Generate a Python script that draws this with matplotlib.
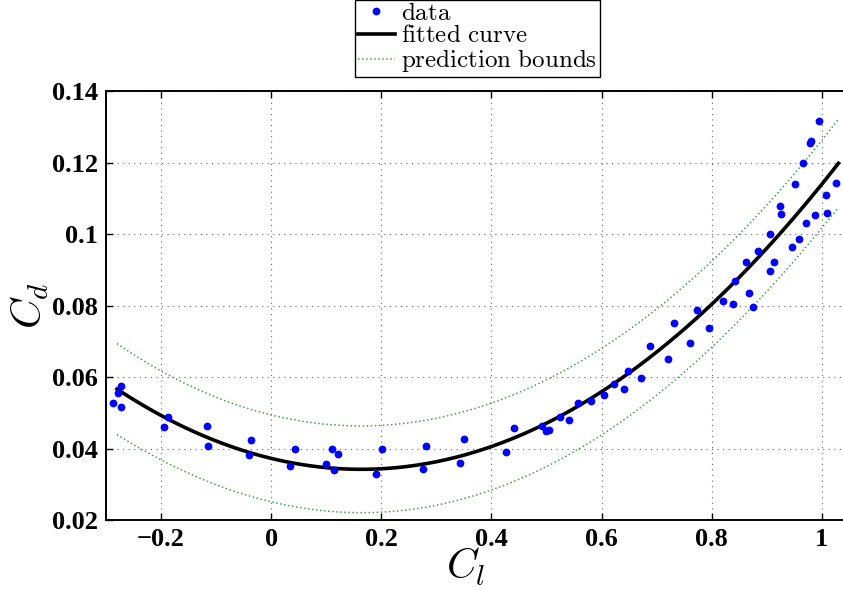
import matplotlib
matplotlib.use('Agg')
import matplotlib.pyplot as plt
import numpy as np

# Measured lift / drag coefficient pairs
cl = [-0.288, -0.278, -0.272, -0.273, -0.195, -0.187, -0.117, -0.114,
      -0.037, -0.041, 0.035, 0.043, 0.099, 0.110, 0.114, 0.122, 0.191,
      0.201, 0.275, 0.281, 0.343, 0.351, 0.426, 0.441, 0.491, 0.499,
      0.504, 0.524, 0.540, 0.558, 0.580, 0.604, 0.623, 0.640, 0.648,
      0.671, 0.688, 0.720, 0.760, 0.732, 0.773, 0.795, 0.821, 0.838,
      0.842, 0.867, 0.875, 0.863, 0.884, 0.906, 0.913, 0.905, 0.924,
      0.926, 0.946, 0.958, 0.971, 0.952, 0.965, 0.978, 0.981, 0.988,
      0.994, 1.008, 1.010, 1.025]
cd = [0.0526, 0.0556, 0.0576, 0.0516, 0.0460, 0.0489, 0.0462, 0.0407,
      0.0423, 0.0381, 0.0351, 0.0400, 0.0356, 0.0399, 0.0339, 0.0385,
      0.0329, 0.0398, 0.0342, 0.0408, 0.0359, 0.0427, 0.0390, 0.0458,
      0.0464, 0.0450, 0.0452, 0.0487, 0.0479, 0.0527, 0.0532, 0.0550,
      0.0580, 0.0566, 0.0618, 0.0596, 0.0686, 0.0651, 0.0696, 0.0752,
      0.0787, 0.0738, 0.0813, 0.0803, 0.0869, 0.0835, 0.0795, 0.0923,
      0.0952, 0.0897, 0.0921, 0.1000, 0.1079, 0.1055, 0.0964, 0.0987,
      0.1030, 0.1141, 0.1199, 0.1254, 0.1260, 0.1054, 0.1315, 0.1110,
      0.1060, 0.1143]

xticks = [-0.2, 0, 0.2, 0.4, 0.6, 0.8, 1.0]
xticklabels = ['\u22120.2', '0', '0.2', '0.4', '0.6', '0.8', '1']
yticks = [0.02, 0.04, 0.06, 0.08, 0.10, 0.12, 0.14]
yticklabels = ['0.02', '0.04', '0.06', '0.08', '0.1', '0.12', '0.14']

plt.rcParams['mathtext.fontset'] = 'cm'
plt.rcParams['font.family'] = 'Liberation Serif'

x = np.array(cl)
y = np.array(cd)

# quadratic fit with 95% prediction bounds (non-simultaneous)
coef = np.polyfit(x, y, 2)
X = np.vander(x, 3)
n = len(x)
resid = y - X @ coef
s2 = np.sum(resid ** 2) / (n - 3)
XtX_inv = np.linalg.inv(X.T @ X)
t_val = 1.998

xf = np.linspace(-0.28, 1.03, 300)
Xf = np.vander(xf, 3)
yf = Xf @ coef
se = np.sqrt(s2 * (1 + np.sum(Xf @ XtX_inv * Xf, axis=1)))

fig = plt.figure(figsize=(8.43, 5.9), dpi=100)
ax = fig.add_axes([0.1257, 0.1186, 0.8885, 0.7271])

ax.plot(x, y, 'o', color='#0000ff', markersize=5.6, markeredgewidth=0,
        label=r'$\mathrm{data}$', zorder=3)
ax.plot(xf, yf, '-', color='k', linewidth=2.6,
        label=r'$\mathrm{fitted\ curve}$', zorder=2)
ax.plot(xf, yf + t_val * se, ':', color='#44a244', linewidth=1.1,
        label=r'$\mathrm{prediction\ bounds}$', zorder=1)
ax.plot(xf, yf - t_val * se, ':', color='#44a244', linewidth=1.1, zorder=1)

ax.set_xlim(-0.3, 1.06)
ax.set_ylim(0.02, 0.14)
ax.set_xticks(xticks)
ax.set_xticklabels(xticklabels, fontsize=19, fontweight='bold')
ax.set_yticks(yticks)
ax.set_yticklabels(yticklabels, fontsize=19, fontweight='bold')
ax.tick_params(direction='in', length=5, width=1, top=True, right=False,
               pad=6)
ax.grid(True, linestyle=(0, (1, 4)), color='0.4', linewidth=0.8)
for sp in ax.spines.values():
    sp.set_linewidth(1.4)

ax.set_xlabel(r'$C_l$', fontsize=30)
ax.xaxis.set_label_coords(0.48, -0.06)
ax.set_ylabel(r'$C_d$', fontsize=30)
ax.yaxis.set_label_coords(-0.074, 0.5)

leg = ax.legend(loc='lower center', bbox_to_anchor=(0.496, 1.033),
                fontsize=18, fancybox=False, framealpha=1, edgecolor='k',
                handlelength=1.5, handletextpad=0.25, labelspacing=0.0,
                borderpad=0.1, borderaxespad=0.0, numpoints=1)
leg.get_frame().set_linewidth(1.0)

plt.savefig('out.png', dpi=100)
